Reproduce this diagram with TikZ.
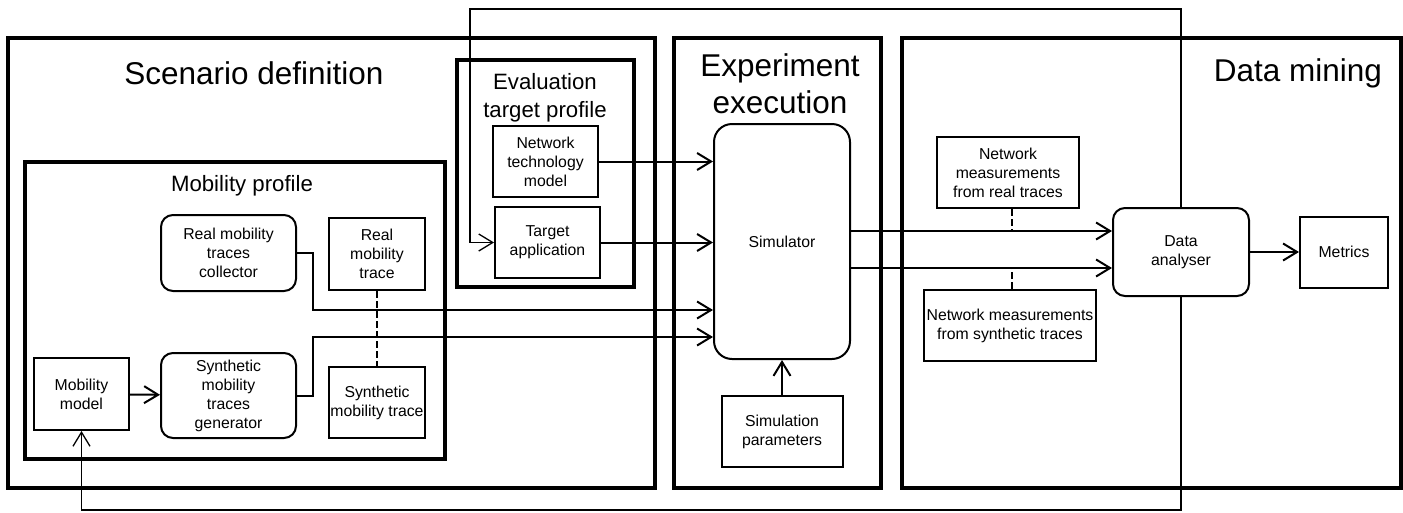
\documentclass[tikz,border=0pt]{standalone}
\usepackage{fontspec}
\setmainfont{Liberation Sans}
\usetikzlibrary{arrows.meta}
\newcommand{\largeTxt}{\fontsize{31.5}{37}\selectfont}
\newcommand{\midTxt}{\fontsize{22.2}{28}\selectfont}
\newcommand{\smallTxt}{\fontsize{15.8}{19}\selectfont}
\begin{document}
\begin{tikzpicture}[x=1pt,y=-1pt,
    bigBox/.style={draw,line width=4.2pt,inner sep=0pt},
    boxNode/.style={draw,line width=2pt,fill=white,align=center,inner sep=1pt,font=\smallTxt},
    roundNode/.style={boxNode,rounded corners=12pt},
    titleNode/.style={align=center,inner sep=0pt},
    arrowLine/.style={line width=2pt,-{Straight Barb[length=14pt,width=17pt]}},
    loopLine/.style={line width=1.3pt,-{Straight Barb[length=14pt,width=17pt]}},
    dashLine/.style={line width=2pt,dash pattern=on 7pt off 3pt}]
  \useasboundingbox (0,0) rectangle (1403,512);
  \node [bigBox,minimum width=647pt,minimum height=450pt] (scen) at (331.5,263) {};
  \node [bigBox,minimum width=207pt,minimum height=450pt] (expe) at (777.5,263) {};
  \node [bigBox,minimum width=499pt,minimum height=450pt] (mine) at (1151.5,263) {};
  \node [bigBox,minimum width=177pt,minimum height=227pt] (eval) at (545.5,173.5) {};
  \node [bigBox,minimum width=420pt,minimum height=297pt] (mobi) at (235,310.5) {};
  \node [titleNode,font=\largeTxt] (scenT) at (254,73) {Scenario definition};
  \node [titleNode,font=\largeTxt] (expeT) at (780,84) {Experiment\\execution};
  \node [titleNode,font=\largeTxt] (mineT) at (1298,73) {Data mining};
  \node [titleNode,font=\midTxt] (evalT) at (545,98) {Evaluation\\target profile};
  \node [titleNode,font=\midTxt] (mobiT) at (242,186) {Mobility profile};
  \node [roundNode,minimum width=135pt,minimum height=76pt] (coll) at (228.5,253) {Real mobility\\traces\\collector};
  \node [boxNode,minimum width=96pt,minimum height=72pt] (rtrace) at (377,254) {Real\\mobility\\trace};
  \node [boxNode,minimum width=95pt,minimum height=72pt] (mmodel) at (81.5,394) {Mobility\\model};
  \node [roundNode,minimum width=135pt,minimum height=85pt] (gen) at (228.5,395.5) {Synthetic\\mobility\\traces\\generator};
  \node [boxNode,minimum width=96pt,minimum height=71pt] (strace) at (377,402.5) {Synthetic\\mobility trace};
  \node [boxNode,minimum width=105pt,minimum height=71pt] (ntm) at (545.5,161.5) {Network\\technology\\model};
  \node [boxNode,minimum width=105pt,minimum height=71pt] (tapp) at (547.5,242.5) {Target\\application};
  \node [boxNode,rounded corners=18pt,minimum width=136pt,minimum height=235pt] (sim) at (782,241.5) {Simulator};
  \node [boxNode,minimum width=121pt,minimum height=71pt] (simp) at (782,431.5) {Simulation\\parameters};
  \node [boxNode,minimum width=142pt,minimum height=71pt] (nmr) at (1008,172.5) {Network\\measurements\\from real traces};
  \node [boxNode,minimum width=172pt,minimum height=71pt] (nms) at (1010,325.5) {Network measurements\\from synthetic traces};
  \node [roundNode,minimum width=136pt,minimum height=88pt] (anlz) at (1181,252) {Data\\analyser};
  \node [boxNode,minimum width=88pt,minimum height=71pt] (metr) at (1344,252) {Metrics};
  \draw [arrowLine] (mmodel) -- (gen);
  \draw [arrowLine] (coll.east) -| (313,310) -- (sim.west |- 0,310);
  \draw [arrowLine] (gen.east) -| (313,337) -- (sim.west |- 0,337);
  \draw [dashLine] (rtrace) -- (strace);
  \draw [arrowLine] (ntm.east) -- (sim.west |- ntm.east);
  \draw [arrowLine] (tapp.east) -- (sim.west |- tapp.east);
  \draw [arrowLine] (simp) -- (sim);
  \draw [arrowLine] (sim.east |- 0,231) -- (anlz.west |- 0,231);
  \draw [arrowLine] (sim.east |- 0,268) -- (anlz.west |- 0,268);
  \draw [dashLine] (nmr.south -| 1012,0) -- (1012,231);
  \draw [dashLine] (nms.north -| 1012,0) -- (1012,268);
  \draw [arrowLine] (anlz) -- (metr);
  \draw [loopLine] (anlz.north) |- (470,9) |- (tapp.west);
  \draw [loopLine] (anlz.south) |- (mmodel.south |- 0,510) -- (mmodel.south);
\end{tikzpicture}
\end{document}
